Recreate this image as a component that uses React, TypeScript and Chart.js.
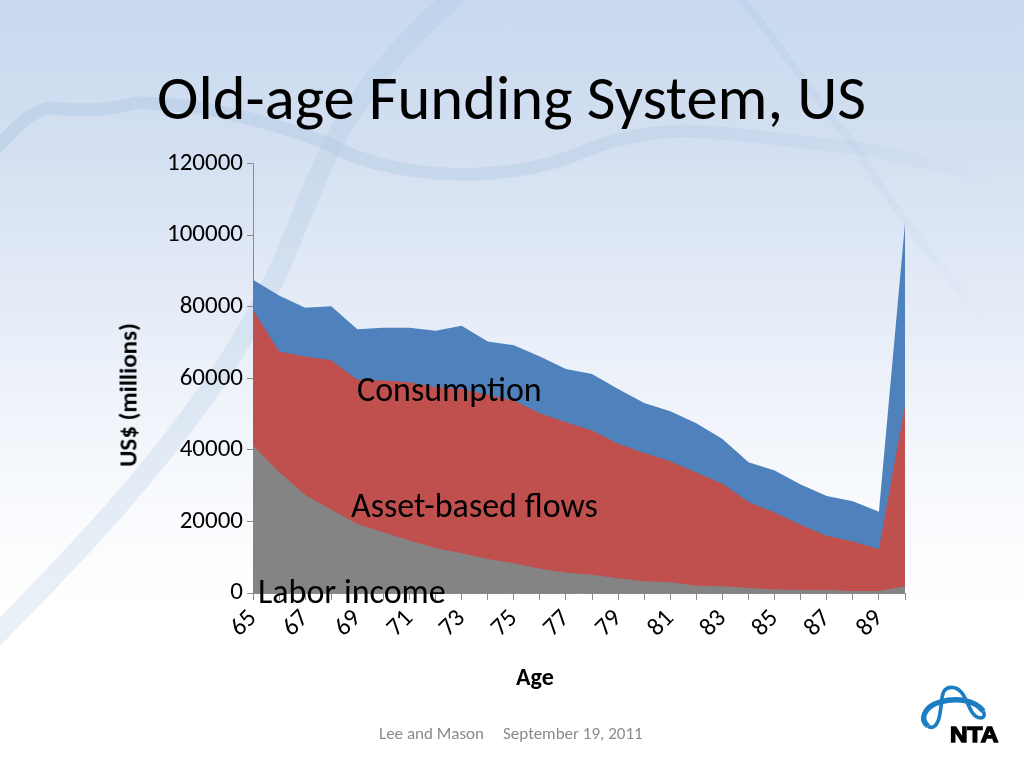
import React, { useEffect, useRef } from "react";
import { Chart, registerables } from "chart.js";

Chart.register(...registerables);

const ages = ["65","66","67","68","69","70","71","72","73","74","75","76","77","78","79","80","81","82","83","84","85","86","87","88","89","90"];
const laborIncome = [41200,33800,27400,23300,19300,17000,14700,12600,11100,9500,8300,6800,5700,5100,4100,3300,3000,2050,1900,1400,1000,850,850,560,560,1900];
const assetBasedFlows = [37900,33700,38700,41700,40300,42400,44200,44900,45900,45900,45500,43400,42000,40300,37600,35800,33800,31650,28600,24000,21500,18250,15150,13840,11740,50500];
const consumptionGap = [8400,15600,13600,15100,14100,14700,15200,15800,17700,14900,15400,15900,14900,15800,15300,14000,14000,13700,12500,11100,11700,11200,11100,11200,10400,51000];

const FONT = "Carlito, Lato, sans-serif";

function Background() {
  return (
    <svg width={1024} height={768} style={{ position: "absolute", left: 0, top: 0 }}>
      <defs>
        <linearGradient id="bg" x1="0" y1="0" x2="0" y2="1">
          <stop offset="0" stopColor="#c8d9ef" />
          <stop offset="0.2" stopColor="#d4e0f1" />
          <stop offset="0.35" stopColor="#e1e9f6" />
          <stop offset="0.55" stopColor="#f1f5fb" />
          <stop offset="0.7" stopColor="#fbfcfe" />
          <stop offset="0.8" stopColor="#ffffff" />
        </linearGradient>
        <linearGradient id="fadeH" x1="0" y1="0" x2="1" y2="0">
          <stop offset="0" stopColor="#a9c4e0" stopOpacity="0.4" />
          <stop offset="0.6" stopColor="#a9c4e0" stopOpacity="0.32" />
          <stop offset="0.85" stopColor="#a9c4e0" stopOpacity="0.18" />
          <stop offset="1" stopColor="#a9c4e0" stopOpacity="0" />
        </linearGradient>
        <linearGradient id="fadeD" gradientUnits="userSpaceOnUse" x1="740" y1="0" x2="1000" y2="340">
          <stop offset="0" stopColor="#a9c4e0" stopOpacity="0.25" />
          <stop offset="0.7" stopColor="#a9c4e0" stopOpacity="0.12" />
          <stop offset="1" stopColor="#a9c4e0" stopOpacity="0" />
        </linearGradient>
      </defs>
      <rect width={1024} height={768} fill="url(#bg)" />
      <path d="M-10 155 C10 135 28 108 55 108 C85 112 110 110 135 103 C200 102 270 122 327 143 C365 165 420 176 477 174 C520 172 550 165 580 153 C610 140 640 133 680 131 C740 132 790 142 850 147 C890 153 930 165 1000 178" fill="none" stroke="url(#fadeH)" strokeWidth="13" />
      <path d="M-10 642 C60 570 140 490 213 385 C240 345 265 300 281 265 C300 220 315 180 330 150 C350 110 385 55 458 -5" fill="none" stroke="#a9c4e0" strokeOpacity="0.26" strokeWidth="20" />
      <path d="M738 -5 C770 30 815 100 856 147 C875 180 890 200 905 220 C930 255 960 290 1000 340" fill="none" stroke="url(#fadeD)" strokeWidth="8" />
    </svg>
  );
}

function Logo() {
  return (
    <svg width={124} height={98} viewBox="0 0 372 294" style={{ position: "absolute", left: 900, top: 670 }}>
      <path d="M84 168 C58 148 72 110 120 96 C170 82 226 90 250 124" fill="none" stroke="#1b7ec2" strokeWidth="16" />
      <path d="M250 124 C262 150 230 150 215 125 C200 100 190 52 155 52 C120 52 128 90 120 130 C115 165 100 180 84 168" fill="none" stroke="#1b7ec2" strokeWidth="11" />
      <text x="150" y="215" fontFamily="Liberation Sans" fontWeight="700" fontSize="66" stroke="#000" strokeWidth="4" fill="#000" textLength="145" lengthAdjust="spacingAndGlyphs">NTA</text>
    </svg>
  );
}

const overlay = (text: string, left: number, top: number, size: number, color = "#000") => (
  <div style={{ position: "absolute", left, top, fontFamily: FONT, fontSize: size, color, whiteSpace: "nowrap", lineHeight: 1 }}>{text}</div>
);

export default function App() {
  const ref = useRef<HTMLCanvasElement>(null);
  useEffect(() => {
    const layer = (label: string, data: number[], color: string) => ({
      label, data, backgroundColor: color, borderWidth: 0, pointRadius: 0, tension: 0, fill: true,
    });
    const chart = new Chart(ref.current!, {
      type: "line",
      data: {
        labels: ages,
        datasets: [
          layer("Labor income", laborIncome, "#848484"),
          layer("Asset-based flows", assetBasedFlows, "#bf504e"),
          layer("Consumption", consumptionGap, "#4f81bd"),
        ],
      },
      options: {
        animation: false,
        responsive: false,
        devicePixelRatio: 1,
        layout: { padding: { left: 112, top: 163.5, right: 119, bottom: 80 } },
        plugins: { legend: { display: false }, title: { display: false }, tooltip: { enabled: false } },
        scales: {
          x: {
            offset: false,
            grid: { drawOnChartArea: false, color: "#8b8b8b", tickLength: 7 },
            border: { color: "#8b8b8b" },
            ticks: {
              autoSkip: false, maxRotation: 45, minRotation: 45, color: "#000", padding: 4,
              font: { family: FONT, size: 25 },
              callback: (_v: any, i: number) => (i % 2 === 0 && i < 25 ? ages[i] : ""),
            },
            afterFit: (s: any) => { s.height = 95; },
          },
          y: {
            stacked: true, min: 0, max: 120000,
            grid: { drawOnChartArea: false, color: "#8b8b8b", tickLength: 6 },
            border: { color: "#8b8b8b" },
            ticks: { stepSize: 20000, color: "#000", padding: 4, font: { family: FONT, size: 25 }, callback: (v: any) => String(v) },
            afterFit: (s: any) => { s.width = 141; },
          },
        },
      } as any,
    });
    return () => chart.destroy();
  }, []);
  return (
    <div style={{ position: "absolute", left: 0, top: 0, width: 1024, height: 768, overflow: "hidden" }}>
      <Background />
      <canvas ref={ref} width={1024} height={768} style={{ position: "absolute", left: 0, top: 0 }} />
      {overlay("Old-age Funding System, US", 157, 67, 62.5)}
      {overlay("Consumption", 357, 373, 34)}
      {overlay("Asset-based flows", 351, 489, 34)}
      {overlay("Labor income", 258, 575, 34)}
      <div style={{ position: "absolute", left: 516, top: 665, fontFamily: FONT, fontSize: 24, fontWeight: 700, lineHeight: 1, whiteSpace: "nowrap" }}>Age</div>
      <div style={{ position: "absolute", left: 128, top: 395, fontFamily: FONT, fontSize: 25, fontWeight: 700, lineHeight: 1, whiteSpace: "nowrap", transform: "translate(-50%,-50%) rotate(-90deg)" }}>US$ (millions)</div>
      {overlay("Lee and Mason", 379, 725, 17, "#8a8a8a")}
      {overlay("September 19, 2011", 503, 725, 17, "#8a8a8a")}
      <Logo />
    </div>
  );
}
